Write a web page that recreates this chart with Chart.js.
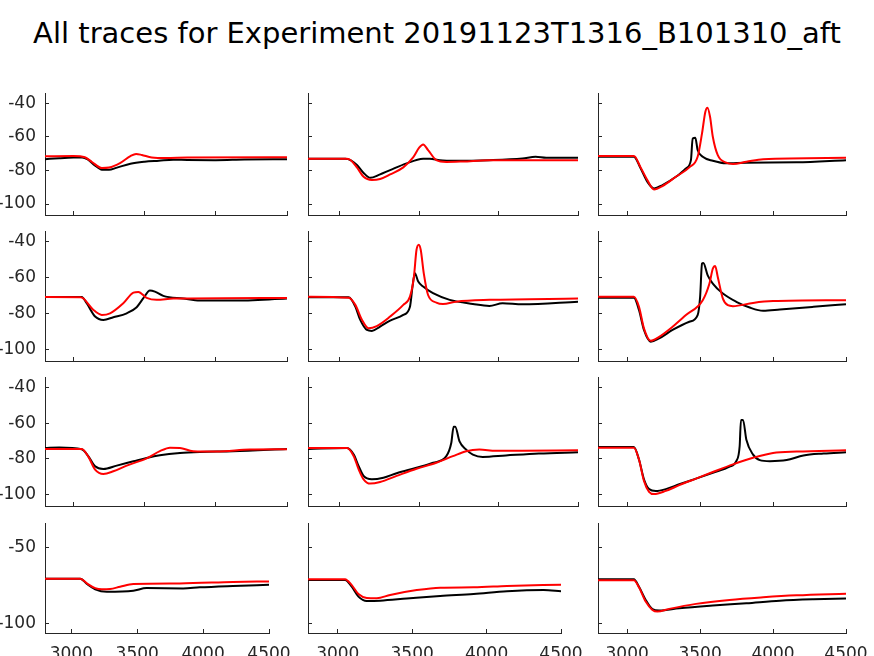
<!DOCTYPE html>
<html>
<head>
<meta charset="utf-8">
<script src="https://cdn.jsdelivr.net/npm/chart.js@4.4.0/dist/chart.umd.min.js"></script>
<style>
  body { margin: 0; width: 874px; height: 656px; overflow: hidden; background: #fff; position: relative; font-family: "DejaVu Sans", sans-serif; }
  #title { position: absolute; left: 0; top: 16px; width: 874px; line-height: 34px; text-align: center; font-size: 29px; color: #000; white-space: nowrap; }
  canvas { position: absolute; }
</style>
</head>
<body>
<div id="title">All traces for Experiment 20191123T1316_B101310_aft</div>
<script>
// axis ranges and tick labels
const xMin = 2800, xMax = 4500;
const yMin = -106.5, yMax = -34;
const xTicks = [3000, 3500, 4000, 4500];
const yTicks = [-100, -80, -60, -40];
const yTicksLast = [-100, -50];

// traces: [time, voltage]
const black11 = [[2800,-73.3],[2900,-72.8],[3000,-72.4],[3060,-72.3],[3100,-73.5],[3150,-77],[3200,-79.6],[3250,-79.6],[3300,-78.5],[3400,-76],[3500,-74.8],[3600,-74.2],[3700,-73.6],[3800,-73.8],[4000,-73.9],[4200,-73.5],[4500,-73.3]];
const red11 = [[2800,-71.6],[3000,-71.5],[3080,-72.2],[3130,-75],[3200,-78.6],[3250,-78.3],[3330,-75.5],[3400,-71.5],[3440,-70.2],[3480,-70.8],[3550,-72.3],[3650,-72.6],[3800,-72.3],[4500,-72.2]];

const black12 = [[2800,-73.1],[3035,-73.1],[3070,-74],[3108,-76.8],[3150,-81.5],[3192,-84.4],[3250,-82.5],[3317,-79.8],[3421,-75.8],[3525,-73.1],[3567,-73],[3630,-74],[3733,-74.3],[3942,-73.9],[4150,-72.9],[4233,-71.9],[4300,-72.5],[4500,-72.5]];
const red12 = [[2800,-73.1],[3040,-73.1],[3067,-73.8],[3108,-78.2],[3150,-83.8],[3202,-85.7],[3254,-85.1],[3317,-82.4],[3400,-78.2],[3462,-72.3],[3500,-66.5],[3525,-64.6],[3556,-67.9],[3608,-73.9],[3671,-75],[3775,-74.7],[3942,-73.9],[4500,-73.9]];

const black13 = [[2800,-71.9],[3046,-71.9],[3092,-78.8],[3138,-86.7],[3184,-90.7],[3242,-88.7],[3334,-83.8],[3403,-78.8],[3437,-73.9],[3449,-61],[3467,-60.6],[3483,-67.9],[3518,-71.9],[3587,-74.3],[3679,-75.8],[3817,-75.4],[4162,-75.2],[4500,-73.9]];
const red13 = [[2800,-71.5],[3046,-71.5],[3092,-78.2],[3138,-85.7],[3184,-91.3],[3242,-89.3],[3334,-83.8],[3426,-78.2],[3483,-71.9],[3513,-58],[3536,-45.1],[3550,-42.7],[3568,-48.1],[3587,-60],[3621,-70.9],[3679,-75.4],[3725,-76.2],[3817,-74.9],[3932,-73.3],[4500,-72.5]];

const black21 = [[2800,-70.8],[3058,-70.8],[3093,-74.3],[3152,-81.7],[3210,-83.6],[3280,-82.1],[3374,-79.9],[3444,-76.5],[3491,-71.5],[3537,-67.2],[3572,-67.8],[3631,-70.2],[3771,-71.7],[3888,-72.8],[4121,-72.8],[4500,-71.7]];
const red21 = [[2800,-70.8],[3050,-70.9],[3070,-71.7],[3140,-78],[3199,-80.8],[3257,-79.9],[3350,-74.3],[3421,-68.4],[3456,-68],[3514,-71.3],[3584,-72.4],[3701,-71.7],[4500,-71.3]];

const black22 = [[2800,-71],[3056,-71],[3098,-76.2],[3129,-83.6],[3171,-89.2],[3202,-89.7],[3254,-87.3],[3317,-84],[3400,-80.8],[3442,-76.2],[3458,-65],[3473,-57.6],[3494,-62.2],[3525,-65],[3587,-68.7],[3692,-72.4],[3838,-74.7],[3942,-75.8],[4025,-74.3],[4150,-74.9],[4500,-73.4]];
const red22 = [[2800,-70.6],[3056,-71.2],[3098,-75.2],[3140,-83.6],[3181,-88.2],[3233,-87],[3317,-81.7],[3400,-75.2],[3442,-70.6],[3467,-59.4],[3483,-44.6],[3498,-41.6],[3510,-44.6],[3529,-57.6],[3556,-69.7],[3608,-73.9],[3650,-74.7],[3733,-73.4],[3942,-72.4],[4500,-71.7]];

const black23 = [[2800,-71.2],[3046,-71.2],[3081,-78.1],[3115,-89.2],[3161,-95.7],[3219,-93.9],[3311,-89.2],[3426,-84.6],[3483,-80.9],[3500,-70.7],[3513,-52.2],[3522,-51.8],[3552,-58.7],[3587,-63.3],[3656,-68.9],[3748,-73.5],[3840,-76.7],[3932,-78.5],[4047,-77.8],[4277,-76.3],[4500,-74.8]];
const red23 = [[2800,-70.7],[3046,-70.7],[3081,-76.3],[3115,-88.3],[3161,-95.2],[3219,-93],[3311,-87.4],[3403,-80.9],[3518,-72.6],[3564,-63.3],[3587,-55],[3603,-53.5],[3621,-59.6],[3656,-71.7],[3690,-75.4],[3725,-75.9],[3863,-74.1],[4000,-73.1],[4500,-72.6]];

const black31 = [[2800,-73.9],[2900,-73.6],[3058,-74.6],[3105,-78.6],[3152,-84.2],[3210,-85.7],[3304,-83.8],[3421,-81.4],[3514,-79.5],[3607,-78],[3748,-76.7],[3888,-76.1],[4121,-75.7],[4500,-74.4]];
const red31 = [[2800,-74.4],[3058,-74.4],[3105,-78.9],[3152,-86],[3210,-88.5],[3280,-87],[3374,-83.8],[3514,-79.7],[3607,-75.7],[3678,-73.7],[3748,-73.9],[3841,-75.7],[4005,-75.9],[4238,-74.8],[4500,-74.6]];

const black32 = [[2800,-74.4],[3046,-73.9],[3088,-77.6],[3119,-84.1],[3150,-89.6],[3202,-91.5],[3275,-90.6],[3358,-88.1],[3483,-85],[3588,-82.2],[3671,-78.5],[3702,-71.1],[3717,-61.9],[3727,-61.9],[3754,-70.2],[3796,-74.8],[3838,-77.6],[3900,-78.9],[4046,-78.1],[4254,-77],[4500,-76.3]];
const red32 = [[2800,-73.9],[3046,-73.9],[3088,-78.5],[3119,-85.9],[3150,-91.5],[3192,-93.9],[3254,-93],[3358,-89.6],[3483,-85.6],[3608,-82.2],[3712,-78.5],[3796,-75.7],[3879,-74.8],[3983,-75.5],[4150,-75.4],[4500,-75.2]];

const black33 = [[2800,-73.3],[3046,-73.3],[3081,-80.4],[3115,-91.5],[3150,-97],[3196,-98.1],[3265,-97],[3357,-94.3],[3472,-91.1],[3587,-87.8],[3702,-84.4],[3748,-81.3],[3771,-72.9],[3780,-58.1],[3794,-58.1],[3817,-69.3],[3863,-77.6],[3909,-80.7],[3978,-81.3],[4093,-80.7],[4208,-78.1],[4346,-77],[4500,-76.3]];
const red33 = [[2800,-73.7],[3046,-73.7],[3081,-80.4],[3115,-92.4],[3150,-98.5],[3184,-99.8],[3265,-98],[3357,-94.8],[3472,-91.1],[3587,-87.4],[3725,-83.1],[3863,-79.4],[4000,-76.7],[4162,-75.9],[4500,-75.2]];

const black41 = [[2800,-70.7],[3068,-70.7],[3118,-74.2],[3181,-77.7],[3269,-79.3],[3470,-78.6],[3571,-76.9],[3848,-77.1],[3974,-76.4],[4226,-75.5],[4500,-74.7]];
const red41 = [[2800,-70.7],[3068,-70.7],[3118,-73.8],[3181,-76.9],[3231,-77.7],[3294,-77.5],[3370,-76],[3470,-74.2],[3823,-73.8],[4226,-72.9],[4500,-72.5]];

const black42 = [[2800,-71.6],[3049,-71.6],[3094,-76],[3139,-82.5],[3195,-85.4],[3285,-85.2],[3464,-83.8],[3688,-82.1],[3913,-80.8],[4137,-79],[4383,-78.2],[4500,-79]];
const red42 = [[2800,-71],[3049,-71],[3094,-74.9],[3139,-80.8],[3195,-83.4],[3262,-83.6],[3352,-81.4],[3531,-78.2],[3688,-76.6],[3913,-76.4],[4137,-75.5],[4500,-74.7]];

const black43 = [[2800,-71],[3046,-71],[3081,-76],[3127,-84.7],[3173,-90.8],[3219,-91.7],[3357,-90.2],[3587,-88.4],[3817,-86.9],[4047,-85.2],[4277,-84.3],[4500,-83.8]];
const red43 = [[2800,-71.8],[3046,-71.8],[3081,-76.4],[3127,-85.8],[3173,-91.3],[3207,-92.4],[3288,-90.6],[3472,-87.3],[3702,-84.7],[3932,-83],[4162,-81.7],[4500,-80.6]];

const traces = [
  [black11, red11], [black12, red12], [black13, red13],
  [black21, red21], [black22, red22], [black23, red23],
  [black31, red31], [black32, red32], [black33, red33],
  [black41, red41], [black42, red42], [black43, red43]
];

// axes boxes in page pixels
const colLeft = [45, 308, 598];
const colRight = [287, 578, 846];
const lastRowRight = [269, 561, 846];
const rowTop = [93, 231, 377, 523];
const rowBottom = [215, 361, 506, 633];

const axisColor = '#262626';
const tickFont = { family: 'DejaVu Sans', size: 17 };

traces.forEach((pair, i) => {
  const row = Math.floor(i / 3), col = i % 3;
  const L = colLeft[col];
  const R = row === 3 ? lastRowRight[col] : colRight[col];
  const T = rowTop[row], B = rowBottom[row];
  const padL = col === 0 ? 45 : 8;
  const padT = 6;
  const padR = row === 3 ? 28 : 6;
  const padB = row === 3 ? 23 : 6;

  const canvas = document.createElement('canvas');
  canvas.width = R - L + padL + padR;
  canvas.height = B - T + padT + padB;
  canvas.style.left = (L - padL) + 'px';
  canvas.style.top = (T - padT) + 'px';
  document.body.appendChild(canvas);

  const yt = row === 3 ? yTicksLast : yTicks;

  new Chart(canvas, {
    type: 'line',
    data: {
      datasets: [
        { data: pair[0], borderColor: '#000', borderWidth: 2, pointRadius: 0, cubicInterpolationMode: 'monotone', order: 1 },
        { data: pair[1], borderColor: '#ff0000', borderWidth: 2, pointRadius: 0, cubicInterpolationMode: 'monotone', order: 0 }
      ]
    },
    options: {
      responsive: false,
      animation: false,
      devicePixelRatio: 1,
      layout: { padding: { left: 0, top: padT, right: padR, bottom: 0 } },
      plugins: { legend: { display: false }, tooltip: { enabled: false } },
      scales: {
        x: {
          type: 'linear', min: xMin, max: xMax,
          afterBuildTicks: s => { s.ticks = xTicks.map(v => ({ value: v })); },
          afterFit: s => { s.height = padB; s.paddingLeft = 0; s.paddingRight = 0; },
          grid: { drawOnChartArea: false, drawTicks: true, tickLength: -4, color: axisColor },
          border: { color: axisColor, width: 1 },
          ticks: {
            autoSkip: false, maxRotation: 0, padding: 15, font: tickFont,
            color: row === 3 ? axisColor : 'rgba(0,0,0,0)',
            callback: v => String(v)
          }
        },
        y: {
          type: 'linear', min: yMin, max: yMax,
          afterBuildTicks: s => { s.ticks = yt.map(v => ({ value: v })); },
          afterFit: s => { s.width = padL; s.paddingTop = 0; s.paddingBottom = 0; },
          grid: { drawOnChartArea: false, drawTicks: true, tickLength: -4, color: axisColor },
          border: { color: axisColor, width: 1 },
          ticks: {
            autoSkip: false, padding: 13, font: tickFont,
            color: col === 0 ? axisColor : 'rgba(0,0,0,0)',
            callback: v => String(v)
          }
        }
      }
    }
  });
});
</script>
</body>
</html>
